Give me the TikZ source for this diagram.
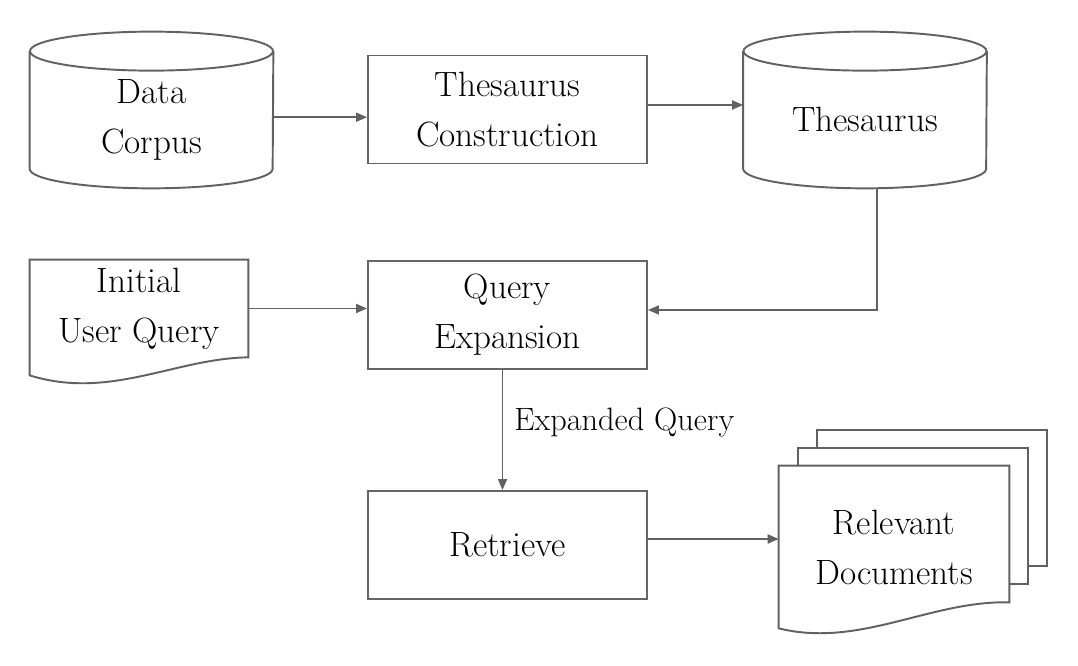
\documentclass[tikz,border=0pt]{standalone}
\usepackage{fontspec}
\usetikzlibrary{arrows.meta,backgrounds}

\begin{document}
\begin{tikzpicture}[
    every node/.style={text=black,font=\fontsize{20}{28.5}\selectfont,align=center},
    box/.style={draw=black!60,line width=1.1pt,minimum width=5.58cm,minimum height=2.16cm},
    store/.style={inner sep=0pt,minimum width=4.86cm,minimum height=2.73cm},
    paper/.style={inner sep=0pt},
    line/.style={draw=black!62,line width=1.1pt},
    arr/.style={line,-{Triangle[length=2.2mm,width=1.8mm]}}
]
    \useasboundingbox (0,0) rectangle (21.56,13.32);

    \node[store](corpus) at (3.03,10.925) {Data\\Corpus};
    \node[box](construct) at (10.15,11.13) {Thesaurus\\Construction};
    \node[store](thesaurus) at (17.30,10.925) {Thesaurus};

    \node[paper,minimum width=4.36cm,minimum height=1.94cm](query) at (2.78,7.15) {Initial\\User Query};
    \node[box](expand) at (10.15,7.02) {Query\\Expansion};
    \node[box](retrieve) at (10.15,2.42) {Retrieve};
    \node[paper,minimum width=4.6cm,minimum height=3.24cm](docs) at (17.88,2.38) {Relevant\\Documents};

    % cylinder outlines
    \foreach \n in {corpus,thesaurus}
        \draw[line](\n.north west)--([yshift=3.9mm]\n.south west)
            arc[start angle=180,end angle=360,x radius=2.43cm,y radius=3.9mm]--(\n.north east)
            (\n.north) ellipse[x radius=2.43cm,y radius=3.9mm];

    % document outlines
    \draw[line](query.north west)--(query.north east)--(query.south east)
        .. controls +(-1.46,-0.02) and +(1.6,-0.5) .. ([yshift=-3.6mm]query.south west)--cycle;
    \begin{scope}[on background layer]
        \foreach \s in {2,1}
            \draw[line,fill=white]([shift={(\s*0.38,\s*0.36)}]docs.north west) rectangle ([shift={(\s*0.38,\s*0.36+0.52)}]docs.south east);
        \draw[line,fill=white](docs.north west)--(docs.north east)--([yshift=5.2mm]docs.south east)
            .. controls +(-1.58,0.04) and +(1.62,-0.4) .. (docs.south west)--cycle;
    \end{scope}

    % connectors
    \draw[arr]([yshift=0.5mm]corpus.east)--([yshift=0.5mm]corpus.east -| construct.west);
    \draw[arr]([yshift=0.9mm]construct.east)--([yshift=0.9mm]construct.east -| thesaurus.west);
    \draw[arr]([xshift=2.4mm]thesaurus.south)|-([yshift=1mm]expand.east);
    \draw[arr](query.east)--(query.east -| expand.west);
    \draw[arr]([xshift=-1mm]expand.south)--node[pos=0.44,right=1mm,font=\fontsize{18.4}{22}\selectfont]{Expanded Query}([xshift=-1mm]retrieve.north);
    \draw[arr]([yshift=1.2mm]retrieve.east)--([yshift=1.2mm]retrieve.east -| docs.west);
\end{tikzpicture}
\end{document}
